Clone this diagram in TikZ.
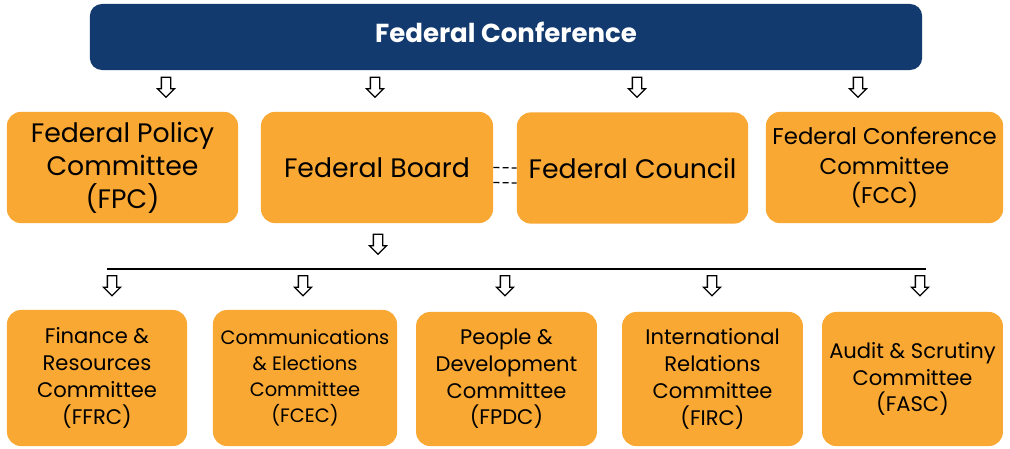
\documentclass[tikz,border=0pt]{standalone}
\usepackage{fontspec}
\setmainfont{Poppins}
\usetikzlibrary{shapes.arrows}

\definecolor{confblue}{RGB}{19,58,111}
\definecolor{boxorange}{RGB}{249,168,52}

\begin{document}
\begin{tikzpicture}[x=0.025cm,y=-0.025cm,
  body/.style={fill=boxorange,rounded corners=0.35cm,align=center,inner sep=0pt},
  topbox/.style={body,minimum height=2.78cm,font=\fontsize{19}{23.5}\selectfont},
  subbox/.style={body,minimum width=4.52cm,font=\fontsize{15}{19}\selectfont},
  downarrow/.style={single arrow,draw=black,fill=white,line width=0.9pt,rotate=-90,
    minimum height=0.5cm,inner sep=0.1cm,single arrow head extend=0.1cm,
    single arrow head indent=0pt}]
  \useasboundingbox (0,0) rectangle (1010,448);

  \node[fill=confblue,rounded corners=0.3cm,minimum width=20.8cm,minimum height=1.65cm,
        text depth=0.25cm,text=white,font=\fontsize{18.5}{22}\selectfont\bfseries]
    (conf) at (506,37) {Federal Conference};

  \node[topbox,minimum width=5.78cm] (fpc)     at (122.5,167.5) {Federal Policy\\Committee\\(FPC)};
  \node[topbox,minimum width=5.8cm]  (board)   at (377,167.5)   {Federal Board};
  \node[topbox,minimum width=5.78cm] (council) at (632.5,168)   {Federal Council};
  \node[topbox,minimum width=5.93cm,font=\fontsize{16.2}{21}\selectfont] (fcc) at (884.5,167.5)
    {Federal Conference\\Committee\\(FCC)};

  \node[subbox,minimum height=3.4cm,minimum width=4.5cm]  (ffrc) at (97,378)    {Finance \&\\Resources\\Committee\\(FFRC)};
  \node[subbox,minimum height=3.4cm,minimum width=4.6cm,font=\fontsize{13.8}{18.5}\selectfont]
    (fcec) at (305,378) {Communications\\\& Elections\\Committee\\(FCEC)};
  \node[subbox,minimum height=3.35cm] (fpdc) at (506.5,379) {People \&\\Development\\Committee\\(FPDC)};
  \node[subbox,minimum height=3.35cm] (firc) at (712.5,379) {International\\Relations\\Committee\\(FIRC)};
  \node[subbox,minimum height=3.35cm] (fasc) at (912.5,379) {Audit \& Scrutiny\\Committee\\(FASC)};

  % arrows under the conference
  \foreach \name/\x in {a1/166,a2/375,a3/637,a4/858}
    \node[downarrow] (\name) at (\x,85) {};
  \node[downarrow] (amid) at (378,242) {};

  % committee bus
  \coordinate (busL) at (107,269);
  \coordinate (busR) at (926,269);
  \draw[line width=1.1pt] (busL) -- (busR);
  \foreach \name/\x in {b1/112,b2/303,b3/505,b4/712,b5/920}
    \node[downarrow] (\name) at (\x,283.5) {};

  % board -- council link
  \draw[dashed,line width=0.9pt,dash pattern=on 0.15cm off 0.08cm] (board.east) -- (council.west);
  \draw[dashed,line width=0.9pt,dash pattern=on 0.15cm off 0.08cm]
    ([yshift=-0.375cm]board.east) -- ([yshift=-0.375cm]council.west);
\end{tikzpicture}
\end{document}
